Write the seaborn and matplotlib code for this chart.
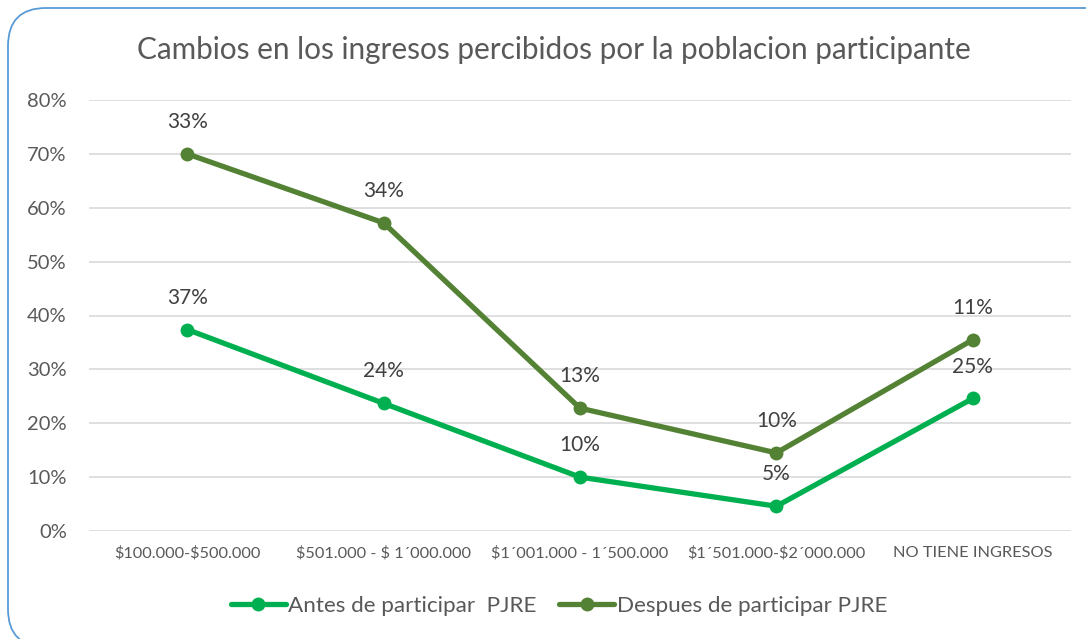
import matplotlib
matplotlib.use("Agg")
import matplotlib.pyplot as plt
import seaborn as sns
import pandas as pd
import numpy as np
from matplotlib.patches import FancyBboxPatch
from matplotlib.lines import Line2D

categories = ["$100.000-$500.000", "$501.000 - $ 1\u00b4000.000", "$1\u00b4001.000 - 1\u00b4500.000",
              "$1\u00b4501.000-$2\u00b4000.000", "NO TIENE INGRESOS"]
antes = [37.4, 23.7, 10.0, 4.6, 24.6]
despues = [32.6, 33.5, 12.8, 9.9, 10.9]
series_names = ["Antes de participar  PJRE", "Despues de participar PJRE"]
colors = ["#00B050", "#548235"]
title = "Cambios en los ingresos percibidos por la poblacion participante"

sns.set_theme(style="white")
plt.rcParams['font.family'] = ['Lato', 'DejaVu Sans']

# stacked line chart: second series stacked on first
antes_arr = np.array(antes)
desp_cum = antes_arr + np.array(despues)

df = pd.DataFrame({
    "x": list(range(len(categories))) * 2,
    "y": list(antes_arr / 100) + list(desp_cum / 100),
    "serie": [series_names[0]] * len(categories) + [series_names[1]] * len(categories),
})

fig = plt.figure(figsize=(10.86, 6.39), dpi=100)
ax = fig.add_axes([89 / 1086, 1 - 531 / 639, (1071 - 89) / 1086, (531 - 100) / 639])

sns.lineplot(data=df, x="x", y="y", hue="serie", palette=colors, ax=ax,
             marker="o", markersize=10, linewidth=3.8, markeredgewidth=0,
             legend=False, zorder=3)

ax.set_xlim(-0.5, len(categories) - 0.5)
ax.set_ylim(0, 0.8)
ax.set_yticks(np.arange(0, 0.81, 0.1))
ax.set_yticklabels([f"{int(round(v*100))}%" for v in np.arange(0, 0.81, 0.1)])
ax.set_xticks(range(len(categories)))
ax.set_xticklabels(categories)
for t in ax.get_xticklabels():
    t.set_parse_math(False)
ax.tick_params(axis='y', length=0, labelsize=14.5, labelcolor="#595959", pad=16)
ax.tick_params(axis='x', length=0, labelsize=11.8, labelcolor="#595959", pad=11)
ax.set_xlabel("")
ax.set_ylabel("")
for s in ax.spines.values():
    s.set_visible(False)
ax.grid(axis='y', color="#D9D9D9", linewidth=1.2, zorder=0)
ax.set_axisbelow(True)

for i in range(len(categories)):
    ax.annotate(f"{antes[i]:.0f}%", (i, antes_arr[i] / 100), xytext=(0, 23), textcoords="offset points",
                ha="center", va="center", fontsize=15, color="#404040")
    ax.annotate(f"{despues[i]:.0f}%", (i, desp_cum[i] / 100), xytext=(0, 23), textcoords="offset points",
                ha="center", va="center", fontsize=15, color="#404040")

fig.text(554 / 1086, 1 - 50 / 639, title, ha="center", va="center", fontsize=21.4, color="#595959")

handles = [Line2D([0], [0], color=c, linewidth=3.8, marker="o", markersize=10, markeredgewidth=0) for c in colors]
fig.legend(handles, series_names, loc="center", bbox_to_anchor=(559 / 1086, 1 - 606 / 639), ncol=2,
           frameon=False, fontsize=16.2, handlelength=2.45, handletextpad=0.1, columnspacing=1.0,
           labelcolor="#595959")

frame = FancyBboxPatch((8 / 1086, -8 / 639), (1140 - 8) / 1086, (639 - 8 + 8) / 639,
                       boxstyle="round,pad=0,rounding_size=0.035", transform=fig.transFigure,
                       facecolor="none", edgecolor="#5B9BD5", linewidth=1.3, mutation_aspect=1086 / 639)
fig.patches.append(frame)

fig.savefig("out.png", dpi=100)
